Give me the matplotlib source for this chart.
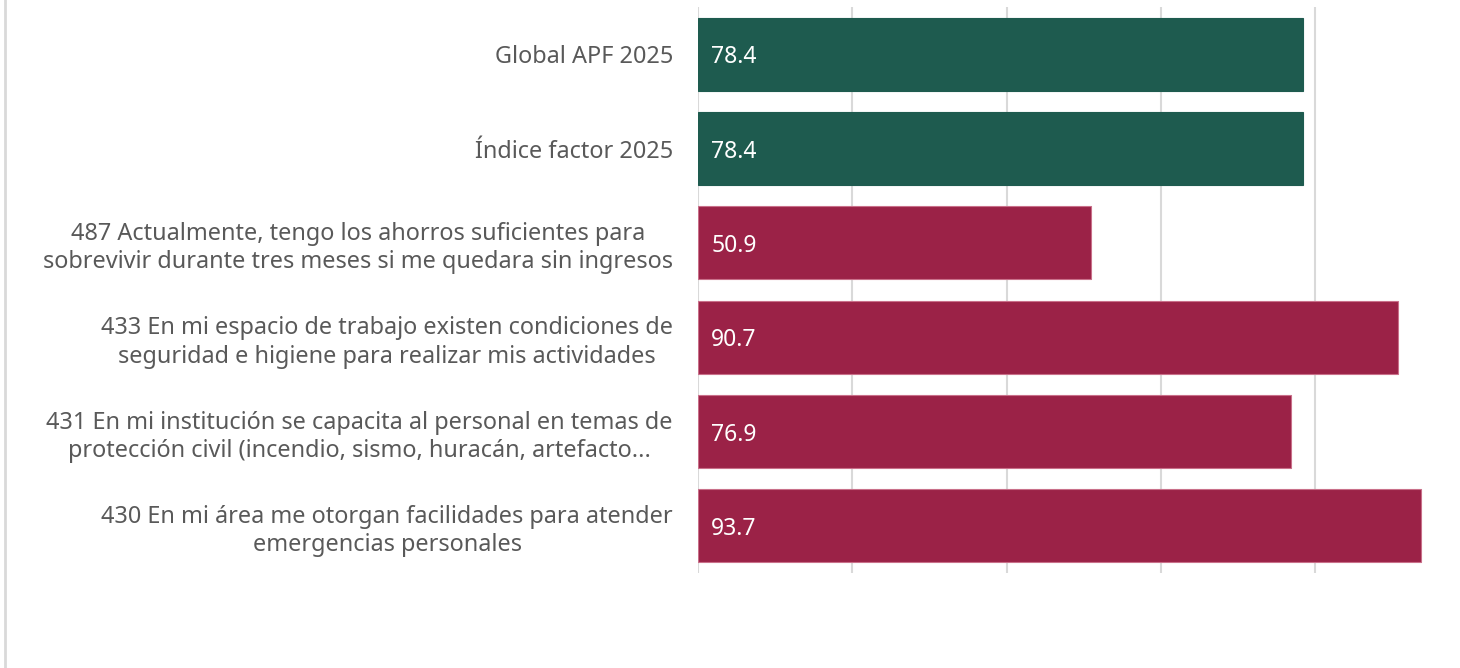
import matplotlib
matplotlib.use("Agg")
import matplotlib.pyplot as plt
from matplotlib.lines import Line2D

plt.rcParams['font.family'] = ['Noto Sans', 'DejaVu Sans']

categories = [
    "Global APF 2025",
    "Índice factor 2025",
    "487 Actualmente, tengo los ahorros suficientes para\nsobrevivir durante tres meses si me quedara sin ingresos",
    "433 En mi espacio de trabajo existen condiciones de\nseguridad e higiene para realizar mis actividades",
    "431 En mi institución se capacita al personal en temas de\nprotección civil (incendio, sismo, huracán, artefacto...",
    "430 En mi área me otorgan facilidades para atender\nemergencias personales",
]
values = [78.4, 78.4, 50.9, 90.7, 76.9, 93.7]
bar_colors = ["#1E5B4F", "#1E5B4F", "#9B2247", "#9B2247", "#9B2247", "#9B2247"]
edge_colors = ["#1E5B4F", "#1E5B4F", "#C9708A", "#C9708A", "#C9708A", "#C9708A"]
xticks = [0, 20, 40, 60, 80]

W, H = 1460, 668
fig = plt.figure(figsize=(W / 100, H / 100), dpi=100)
left, right, top, bottom = 698, 1439, 7, 573
ax = fig.add_axes([left / W, 1 - bottom / H, (right - left) / W, (bottom - top) / H])

y = list(range(len(categories)))
ax.barh(y, values, height=0.775, color=bar_colors, edgecolor=edge_colors, linewidth=0.8, zorder=3)
ax.set_ylim(len(categories) - 0.5, -0.5)
ax.set_xlim(0, (right - left) / 7.715)
ax.set_xticks(xticks)
ax.set_xticklabels([])
ax.tick_params(axis='x', length=0)
ax.grid(axis='x', color='#D9D9D9', linewidth=1.5, zorder=0)
for s in ax.spines.values():
    s.set_visible(False)

ax.set_yticks(y)
ax.set_yticklabels(categories, fontsize=16.9, color='#595959')
ax.tick_params(axis='y', length=0, pad=18)
for lbl in ax.get_yticklabels():
    lbl.set_multialignment('center')
    lbl.set_linespacing(1.25)

for yi, v in zip(y, values):
    ax.text(1.7, yi, f"{v:.1f}", color='white', fontsize=16.5, va='center_baseline', ha='left', zorder=4)

fig.add_artist(Line2D([4.5 / W, 4.5 / W], [0, 1], transform=fig.transFigure, color='#D9D9D9', linewidth=2))

fig.savefig("out.png", dpi=100, facecolor='white')
